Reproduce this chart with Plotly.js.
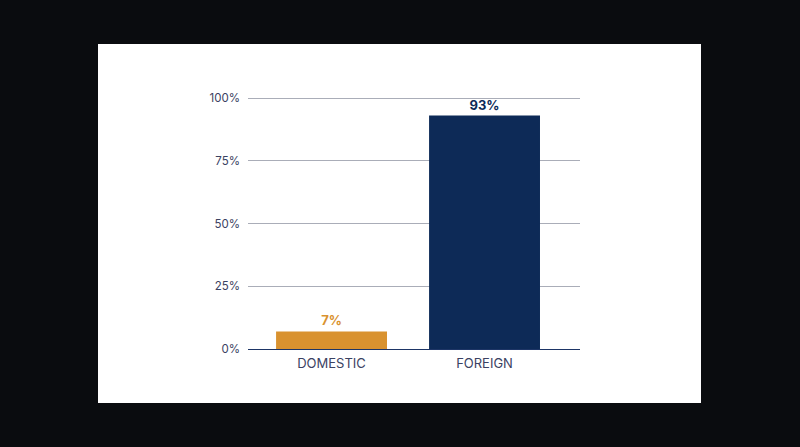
<!DOCTYPE html>
<html>
<head>
<meta charset="utf-8">
<script src="https://cdn.plot.ly/plotly-3.0.1.min.js"></script>
<style>html,body{margin:0;padding:0;background:#0a0c0f;}#chart{width:800px;height:447px;}</style>
</head>
<body>
<div id="chart"></div>
<script>
const categories = ["DOMESTIC", "FOREIGN"];
const shares = [7, 93];
const barColors = ["#d9922f", "#0d2a57"];
const yTickVals = [0, 25, 50, 75, 100];
const yTickText = ["0%", "25%", "50%", "75%", "100%"];

const trace = {
  type: "bar",
  x: categories,
  y: shares,
  marker: {color: barColors},
  width: 0.725,
  text: shares.map(v => "<b>" + v + "%</b>"),
  textposition: "outside",
  textfont: {family: "Inter, 'Open Sans', sans-serif", size: 13, color: barColors},
  cliponaxis: false,
  hoverinfo: "none"
};

const layout = {
  width: 800, height: 447,
  paper_bgcolor: "#0a0c0f",
  plot_bgcolor: "rgba(0,0,0,0)",
  margin: {l: 248, r: 220, t: 96, b: 98},
  showlegend: false,
  font: {family: "Inter, 'Open Sans', sans-serif", color: "#3b4262"},
  shapes: [{
    type: "rect", xref: "paper", yref: "paper", layer: "below",
    x0: -150/332, x1: 453/332, y0: -54/253, y1: 305/253,
    fillcolor: "#ffffff", line: {width: 0}
  }],
  xaxis: {
    type: "category",
    range: [-0.546, 1.624],
    showgrid: false,
    showline: true, linecolor: "#1d3566", linewidth: 1.2,
    ticks: "", tickfont: {size: 13, color: "#3b4262"},
    ticklabelstandoff: 2
  },
  yaxis: {
    range: [0, 100.8],
    tickvals: yTickVals, ticktext: yTickText,
    showgrid: true, gridcolor: "#aaadb8", gridwidth: 1,
    zeroline: false, showline: false, ticks: "",
    tickfont: {size: 11.5, color: "#3b4262"},
    ticklabelstandoff: 7
  }
};

Plotly.newPlot("chart", [trace], layout, {displayModeBar: false, staticPlot: true});
</script>
</body>
</html>
